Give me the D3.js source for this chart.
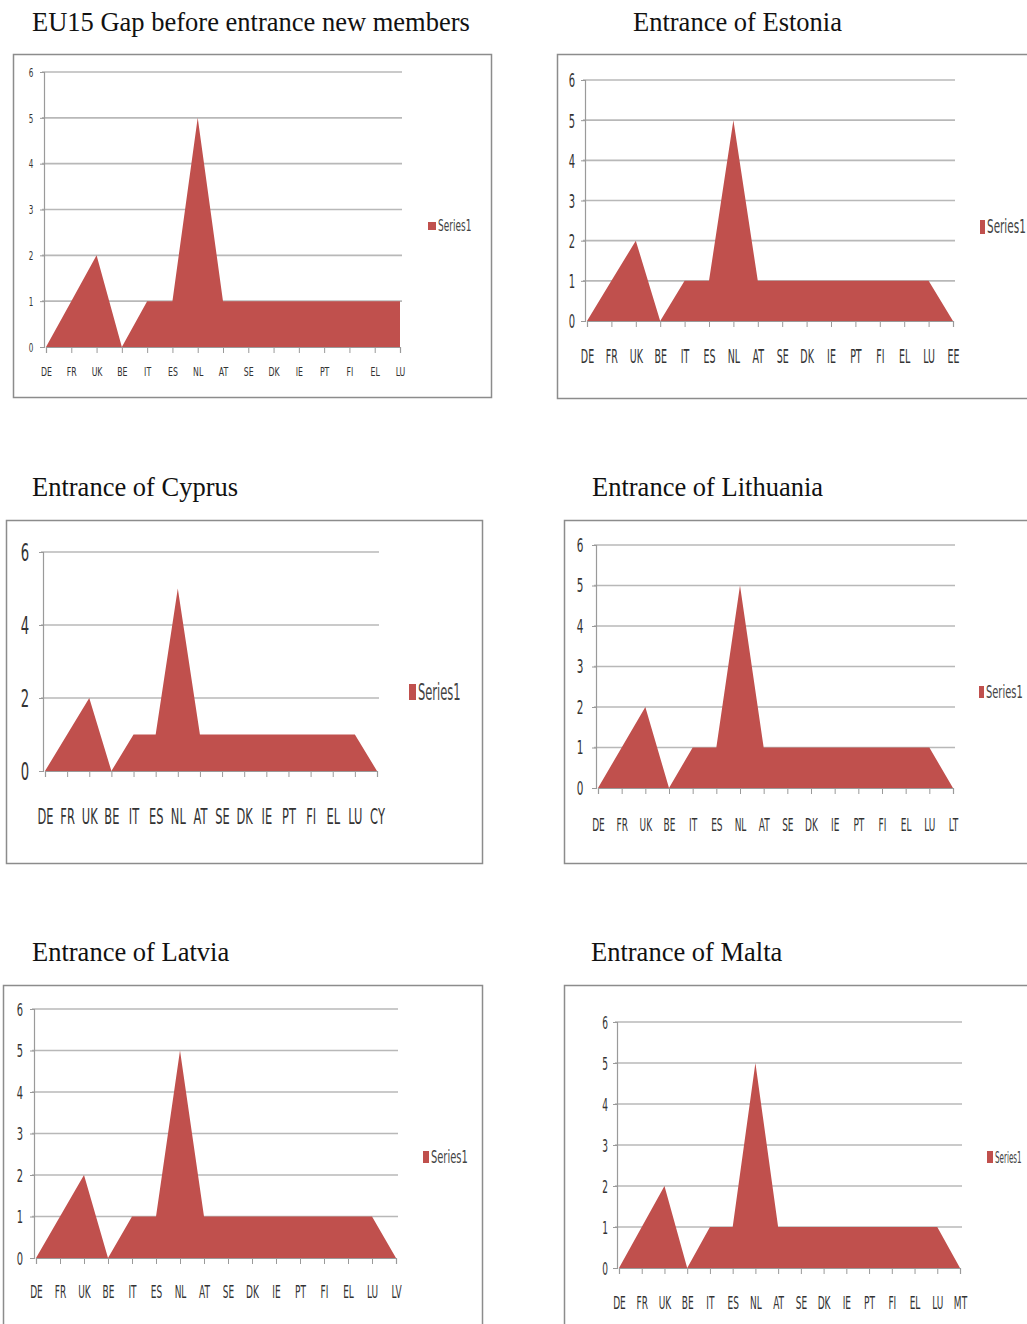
<!DOCTYPE html>
<html><head><meta charset="utf-8">
<script src="https://cdn.jsdelivr.net/npm/d3@7"></script>
<style>
html,body{margin:0;padding:0;background:#fff;}
svg{display:block;}
</style></head>
<body>
<svg id="chart" width="1027" height="1324"></svg>
<script>
// ---- data ----
const baseCategories = ["DE","FR","UK","BE","IT","ES","NL","AT","SE","DK","IE","PT","FI","EL","LU"];
const baseValues     = [0, 1, 2, 0, 1, 1, 5, 1, 1, 1, 1, 1, 1, 1, 1];

const estoniaCategories = ["DE","FR","UK","BE","IT","ES","NL","AT","SE","DK","IE","PT","FI","EL","LU","EE"];
const estoniaValues     = [0, 1, 2, 0, 1, 1, 5, 1, 1, 1, 1, 1, 1, 1, 1, 0];

const cyprusCategories = ["DE","FR","UK","BE","IT","ES","NL","AT","SE","DK","IE","PT","FI","EL","LU","CY"];
const cyprusValues     = [0, 1, 2, 0, 1, 1, 5, 1, 1, 1, 1, 1, 1, 1, 1, 0];

const lithuaniaCategories = ["DE","FR","UK","BE","IT","ES","NL","AT","SE","DK","IE","PT","FI","EL","LU","LT"];
const lithuaniaValues     = [0, 1, 2, 0, 1, 1, 5, 1, 1, 1, 1, 1, 1, 1, 1, 0];

const latviaCategories = ["DE","FR","UK","BE","IT","ES","NL","AT","SE","DK","IE","PT","FI","EL","LU","LV"];
const latviaValues     = [0, 1, 2, 0, 1, 1, 5, 1, 1, 1, 1, 1, 1, 1, 1, 0];

const maltaCategories = ["DE","FR","UK","BE","IT","ES","NL","AT","SE","DK","IE","PT","FI","EL","LU","MT"];
const maltaValues     = [0, 1, 2, 0, 1, 1, 5, 1, 1, 1, 1, 1, 1, 1, 1, 0];

const ticksSix = [0, 1, 2, 3, 4, 5, 6];
const ticksEven = [0, 2, 4, 6];
const seriesName = "Series1";

const titles = ["EU15 Gap before entrance new members","Entrance of Estonia","Entrance of Cyprus",
                "Entrance of Lithuania","Entrance of Latvia","Entrance of Malta"];

// ---- layout ----
const panels = [
  {title:titles[0], cats:baseCategories, vals:baseValues, ticks:ticksSix,
   tx:32, ty:31, box:[13,54,491,397], x0:46, x1:400, y0:347, y6:72, tickX:31,
   xlabY:372, xfs:13, xsx:0.6, yfs:12, ysx:0.6, legX:428, legY:226, legFs:15, legSx:0.6, sqW:8, sqH:8},
  {title:titles[1], cats:estoniaCategories, vals:estoniaValues, ticks:ticksSix,
   tx:633, ty:31, box:[557,54,1040,398], x0:587, x1:953, y0:321, y6:80, tickX:572,
   xlabY:357, xfs:19, xsx:0.5, yfs:20, ysx:0.5, legX:980, legY:227, legFs:19, legSx:0.55, sqW:5, sqH:14},
  {title:titles[2], cats:cyprusCategories, vals:cyprusValues, ticks:ticksEven,
   tx:32, ty:496, box:[6,520,482,863], x0:45, x1:377, y0:771, y6:552, tickX:25,
   xlabY:816, xfs:22, xsx:0.52, yfs:24, ysx:0.55, legX:409, legY:692, legFs:23, legSx:0.5, sqW:7, sqH:16},
  {title:titles[3], cats:lithuaniaCategories, vals:lithuaniaValues, ticks:ticksSix,
   tx:592, ty:496, box:[564,520,1040,863], x0:598, x1:953, y0:788, y6:545, tickX:580,
   xlabY:825, xfs:18, xsx:0.5, yfs:19, ysx:0.55, legX:979, legY:692, legFs:18, legSx:0.55, sqW:5, sqH:12},
  {title:titles[4], cats:latviaCategories, vals:latviaValues, ticks:ticksSix,
   tx:32, ty:961, box:[3,985,482,1330], x0:36, x1:396, y0:1258, y6:1009, tickX:20,
   xlabY:1292, xfs:18, xsx:0.5, yfs:18, ysx:0.55, legX:423, legY:1157, legFs:18, legSx:0.55, sqW:6, sqH:12},
  {title:titles[5], cats:maltaCategories, vals:maltaValues, ticks:ticksSix,
   tx:591, ty:961, box:[564,985,1040,1330], x0:619, x1:960, y0:1268, y6:1022, tickX:605,
   xlabY:1303, xfs:18, xsx:0.5, yfs:18, ysx:0.5, legX:987, legY:1157, legFs:16, legSx:0.45, sqW:6, sqH:12}
];

const svg = d3.select("#chart");
const fill = "#C0504D";
const labelFont = "'DejaVu Sans',sans-serif";

panels.forEach(p => {
  const g = svg.append("g");
  // title
  g.append("text").attr("x", p.tx).attr("y", p.ty)
    .attr("font-family","'Liberation Serif','Times New Roman',serif")
    .attr("font-size", 26.5).attr("fill","#111").text(p.title);
  // frame
  const [bx0,by0,bx1,by1] = p.box;
  g.append("rect").attr("x", bx0+0.5).attr("y", by0+0.5)
    .attr("width", bx1-bx0).attr("height", by1-by0)
    .attr("fill","#fff").attr("stroke","#8c8c8c").attr("stroke-width",1.5);

  const x = d3.scalePoint().domain(p.cats).range([p.x0, p.x1]);
  const y = d3.scaleLinear().domain([0, 6]).range([p.y0, p.y6]);

  // gridlines
  g.append("g").selectAll("line").data(p.ticks.filter(t => t > 0)).join("line")
    .attr("x1", p.x0 - 4).attr("x2", p.x1 + 2)
    .attr("y1", d => y(d)).attr("y2", d => y(d))
    .attr("stroke", "#b8b8b8").attr("stroke-width", 1.6);

  // area
  const area = d3.area().x((d,i) => x(p.cats[i])).y0(y(0)).y1(d => y(d));
  g.append("path").datum(p.vals).attr("d", area).attr("fill", fill);

  // y axis
  const yAxis = d3.axisLeft(y).tickValues(p.ticks).tickSize(4).tickFormat(d3.format("d"));
  const ya = g.append("g").attr("transform", `translate(${p.x0 - 2},0)`).call(yAxis);
  ya.select(".domain").attr("stroke","#9a9a9a").attr("stroke-width",1.2);
  ya.selectAll(".tick line").attr("stroke","#9a9a9a");
  ya.selectAll(".tick text").attr("x", 0).attr("dy", 0).attr("y", 0)
    .attr("text-anchor","middle").attr("dominant-baseline","central")
    .attr("transform", `translate(${p.tickX - (p.x0 - 2)},0) scale(${p.ysx},1)`)
    .attr("font-family", labelFont).attr("font-size", p.yfs).attr("fill","#333");

  // x axis
  const xAxis = d3.axisBottom(x).tickSize(6).tickPadding(0);
  const xa = g.append("g").attr("transform", `translate(0,${p.y0})`).call(xAxis);
  xa.select(".domain").attr("stroke","#9a9a9a").attr("stroke-width",1.2);
  xa.selectAll(".tick line").attr("stroke","#9a9a9a");
  xa.selectAll(".tick text").attr("x", 0).attr("y", 0).attr("dy", 0)
    .attr("dominant-baseline","central")
    .attr("transform", `translate(0,${p.xlabY - p.y0}) scale(${p.xsx},1)`)
    .attr("font-family", labelFont).attr("font-size", p.xfs).attr("fill","#333");

  // legend
  g.append("rect").attr("x", p.legX).attr("y", p.legY - p.sqH/2)
    .attr("width", p.sqW).attr("height", p.sqH).attr("fill", fill);
  g.append("text").attr("x", 0).attr("y", 0)
    .attr("transform", `translate(${p.legX + p.sqW + 2},${p.legY}) scale(${p.legSx},1)`)
    .attr("dominant-baseline","central")
    .attr("font-family", labelFont).attr("font-size", p.legFs).attr("fill","#444")
    .text(seriesName);
});
</script>
</body></html>
